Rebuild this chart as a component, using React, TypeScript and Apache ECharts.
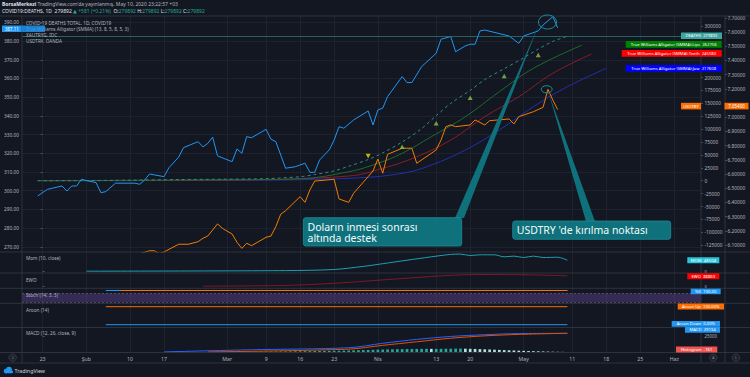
import React, { useEffect, useRef } from "react";
import * as echarts from "echarts";

const FONT = "'Noto Sans', 'DejaVu Sans', sans-serif";
const BG = "#131722";
const AXIS_TXT = "#b2b5be";
const GRID = "#232733";
const BORDER = "#363a45";

// ---------- axis ticks ----------
const xTickDates = ["01-23", "02-01", "02-10", "02-17", "03-01", "03-09", "03-16", "03-23", "04-01", "04-13", "04-20", "05-01", "05-11", "05-18", "05-25", "06-01"];
const xTickLabels = ["23", "Şub", "10", "17", "Mar", "9", "16", "23", "Nis", "13", "20", "May", "11", "18", "25", "Haz"];
const goldTicks = [270, 280, 290, 300, 310, 320, 330, 340, 350, 360, 370, 380, 390];
const deathTicks = [-125000, -100000, -75000, -50000, -25000, 0, 25000, 50000, 75000, 100000, 125000, 150000, 175000, 200000, 300000];
const usdTicks = [6.1, 6.2, 6.3, 6.4, 6.5, 6.6, 6.7, 6.8, 6.9, 7.0, 7.2, 7.3, 7.4, 7.5, 7.6, 7.7];
const momTicks = [0];
const ewoTicks = [0];
const macdTicks = [25000];

// ---------- XAUTRYG (gram gold, TRY) ----------
const goldDates = ["01-22", "01-24", "01-25", "01-27", "01-28", "01-29", "01-30", "01-31", "02-01", "02-03", "02-04", "02-05", "02-07", "02-11", "02-12", "02-13", "02-14", "02-17", "02-18", "02-20", "02-21", "02-24", "02-25", "02-26", "02-27", "02-28", "03-02", "03-03", "03-04", "03-05", "03-06", "03-09", "03-10", "03-11", "03-13", "03-15", "03-17", "03-18", "03-19", "03-20", "03-22", "03-23", "03-24", "03-25", "03-27", "03-30", "03-31", "04-01", "04-02", "04-03", "04-06", "04-07", "04-08", "04-10", "04-13", "04-14", "04-16", "04-17", "04-19", "04-20", "04-21", "04-22", "04-23", "04-28", "04-30", "05-01", "05-04", "05-05", "05-07", "05-08"];
const goldValues = [297.2, 300.7, 301.3, 302.5, 299.8, 302.5, 302.5, 306.1, 305.4, 304.3, 298.9, 299.5, 304.0, 304.0, 303.4, 305.7, 308.9, 307.5, 312.3, 317.9, 323.0, 326.2, 323.4, 325.3, 328.6, 318.6, 315.5, 322.3, 320.0, 328.9, 328.3, 332.8, 327.5, 326.2, 312.0, 312.8, 314.7, 309.8, 309.8, 316.4, 321.8, 327.1, 334.2, 333.4, 337.8, 342.6, 335.1, 343.2, 344.1, 350.3, 361.0, 357.8, 357.8, 366.3, 373.5, 381.0, 382.4, 374.3, 377.4, 378.3, 378.3, 385.4, 385.9, 382.7, 378.8, 382.7, 385.4, 388.6, 393.0, 387.11];

// ---------- USDTRY ----------
const usdDates = ["01-19", "01-31", "02-10", "02-14", "02-15", "02-16", "02-17", "02-20", "02-22", "02-24", "02-25", "02-26", "02-28", "02-29", "03-02", "03-03", "03-04", "03-05", "03-06", "03-09", "03-10", "03-11", "03-12", "03-13", "03-16", "03-17", "03-18", "03-19", "03-23", "03-24", "03-26", "03-27", "03-30", "03-31", "04-01", "04-02", "04-03", "04-06", "04-08", "04-09", "04-13", "04-14", "04-15", "04-16", "04-17", "04-20", "04-21", "04-23", "04-24", "04-28", "04-29", "04-30", "05-03", "05-05", "05-06", "05-07", "05-08"];
const usdValues = [5.95, 5.97, 6.02, 6.06, 6.06, 6.04, 6.052, 6.106, 6.106, 6.124, 6.148, 6.164, 6.249, 6.218, 6.178, 6.12, 6.077, 6.113, 6.096, 6.155, 6.164, 6.23, 6.317, 6.342, 6.441, 6.401, 6.488, 6.551, 6.563, 6.425, 6.401, 6.465, 6.582, 6.622, 6.706, 6.606, 6.739, 6.782, 6.782, 6.676, 6.77, 6.84, 6.934, 6.946, 6.934, 6.946, 6.981, 6.946, 6.976, 6.988, 6.953, 7.004, 7.039, 7.07, 7.197, 7.122, 7.054];

// ---------- COVID-19 deaths total ----------
const deathDates = ["01-22", "01-31", "02-10", "02-20", "02-29", "03-09", "03-16", "03-19", "03-23", "03-26", "03-30", "04-02", "04-06", "04-10", "04-13", "04-16", "04-20", "04-23", "04-27", "05-01", "05-04", "05-07", "05-10"];
const deathValues = [17, 213, 1013, 2247, 2941, 3988, 7750, 12000, 19000, 28000, 41000, 54000, 75000, 101000, 126000, 150000, 175000, 196000, 217000, 238000, 255000, 270000, 279892];

// ---------- Williams Alligator (SMMA) ----------
const lipsDates = ["01-22", "03-01", "03-16", "03-26", "04-01", "04-06", "04-12", "04-19", "04-26", "05-03", "05-13"];
const lipsValues = [50, 1800, 4000, 17440, 33700, 53100, 85300, 124000, 172500, 217800, 262756];
const teethDates = ["01-22", "03-01", "03-26", "04-02", "04-09", "04-16", "04-23", "04-30", "05-07", "05-15"];
const teethValues = [30, 1200, 9100, 24000, 46500, 78900, 124000, 162800, 208100, 245580];
const jawDates = ["01-22", "03-01", "03-26", "04-06", "04-12", "04-19", "04-26", "05-03", "05-10", "05-18"];
const jawValues = [20, 800, 4650, 14300, 30400, 59500, 98300, 143400, 182200, 217608];

// ---------- signal marks ----------
const upMarkDates = ["04-06", "04-13", "04-20", "04-27", "05-04"];
const upMarkValues = [65900, 111200, 160900, 202900, 243600];
const downMarkDates = ["03-30"];
const downMarkValues = [47900];

// ---------- indicators ----------
const momDates = ["02-01", "03-13", "03-23", "03-29", "04-02", "04-07", "04-12", "04-16", "04-18", "04-20", "04-22", "04-25", "04-27", "04-29", "05-01", "05-03", "05-05", "05-08", "05-10"];
const momValues = [0, 2500, 7200, 20300, 31700, 46500, 60800, 71000, 72300, 66400, 69300, 69300, 60800, 63800, 57800, 63800, 57800, 59100, 46504];
const ewoDates = ["02-25", "03-13", "03-23", "04-02", "04-12", "04-17", "04-22", "05-02", "05-10"];
const ewoValues = [0, 6800, 24800, 53800, 82900, 94800, 100000, 97400, 88869];
const stochKDates = ["02-05", "05-10"];
const stochKValues = [100, 100];
const stochDDates = ["02-08", "05-10"];
const stochDValues = [100, 100];
const aroonDates = ["02-05", "05-10"];
const aroonUpValues = [100, 100];
const aroonDownValues = [0, 0];
const macdDates = ["02-17", "03-06", "03-26", "04-02", "04-09", "04-16", "04-23", "04-30", "05-10"];
const macdValues = [150, 3500, 6660, 13600, 19700, 24300, 27000, 28850, 29134];
const signalDates = ["02-26", "03-26", "04-02", "04-09", "04-16", "04-23", "04-30", "05-10"];
const signalValues = [100, 4440, 10400, 15950, 21500, 25240, 27460, 29295];
const histStart = "02-26";
const histValues = [100, 150, 200, 250, 250, 300, 350, 400, 450, 500, 550, 600, 650, 700, 750, 800, 900, 1000, 1100, 1200, 1300, 1400, 1500, 1600, 1700, 1800, 1900, 2000, 2200, 2400, 2600, 2800, 3000, 3200, 3400, 3600, 3800, 4000, 4200, 4400, 4500, 4600, 4700, 4800, 4900, 5000, 4900, 4950, 5000, 5100, 5200, 5300, 5350, 5200, 5000, 4800, 4500, 4200, 3900, 3600, 3300, 3000, 2700, 2400, 2100, 1800, 1500, 1300, 1100, 900, 700, 500, 350, 200, -161];

// ---------- helpers ----------
const BASE = Date.UTC(2020, 0, 23);
function dayOf(s: string): number {
  const [m, d] = s.split("-").map(Number);
  return Math.round((Date.UTC(2020, m - 1, d) - BASE) / 86400000);
}
const pairs = (dates: string[], vals: number[]) => dates.map((d, i) => [dayOf(d), vals[i]]);
const tickDays = xTickDates.map(dayOf);
const labelMap: Record<number, string> = {};
tickDays.forEach((d, i) => (labelMap[d] = xTickLabels[i]));

const X_MIN = -4.24;
const X_MAX = 135.5;
const PANES = [
  { top: 16, h: 236 },
  { top: 252, h: 21 },
  { top: 273, h: 15.3 },
  { top: 288.3, h: 15 },
  { top: 303.3, h: 24.2 },
  { top: 327.5, h: 25 },
];

function rightAxis(grid: number, min: number, max: number, ticks: number[] | null, fmt: (v: number) => string, offset = 0, margin = 3.5, fs = 4.8) {
  return {
    type: "value",
    gridIndex: grid,
    position: "right",
    offset,
    min,
    max,
    axisLine: { show: false },
    axisTick: ticks ? { show: true, length: 2, customValues: ticks, lineStyle: { color: "#787b86", width: 0.6 } } : { show: false },
    axisLabel: ticks
      ? { show: true, customValues: ticks, formatter: fmt, color: AXIS_TXT, fontSize: fs, fontFamily: FONT, margin }
      : { show: false },
    splitLine: { show: false },
  };
}

function box(x: number, y: number, w: number, h: number, fill: string, text: string, fs = 4.2, color = "#ffffff") {
  return [
    { type: "rect", z: 100, shape: { x, y, width: w, height: h }, style: { fill } },
    {
      type: "text", z: 101, x: x + w / 2, y: y + h / 2,
      style: { text, fill: color, fontSize: fs, lineHeight: fs + 0.6, fontFamily: FONT, align: "center", verticalAlign: "middle" },
    },
  ];
}

function buildOption() {
  const histD0 = dayOf(histStart);
  const histData = histValues.map((v, i) => {
    const prev = i > 0 ? histValues[i - 1] : 0;
    const color = v >= 0 ? (v >= prev ? "#26a69a" : "#b2dfdb") : v < prev ? "#ef5350" : "#ffcdd2";
    return { value: [histD0 + i, v], itemStyle: { color } };
  });

  const line = (name: string, x: number, y: number, data: any[], color: string, extra: any = {}) => ({
    name,
    type: "line",
    xAxisIndex: x,
    yAxisIndex: y,
    data,
    symbol: "none",
    lineStyle: { color, width: 1 },
    itemStyle: { color },
    z: 3,
    ...extra,
  });

  const graphics: any[] = [];
  [16, 252, 273, 288.3, 303.3, 327.5, 352.5, 363].forEach((y) =>
    graphics.push({ type: "line", z: 6, silent: true, shape: { x1: 0, y1: y, x2: 750, y2: y }, style: { stroke: BORDER, lineWidth: 0.8 } })
  );
  [22, 701, 725].forEach((x) =>
    graphics.push({ type: "line", z: 6, silent: true, shape: { x1: x, y1: 16, x2: x, y2: 363 }, style: { stroke: BORDER, lineWidth: 0.8 } })
  );

  // header
  graphics.push({
    type: "text", z: 20, x: 2, y: 4.1,
    style: {
      text: "{b|BorsaMerkezi} {n|TradingView.com'da yayınlanmış, May 10, 2020 23:22:57 +03}",
      fontSize: 5, lineHeight: 5.2, fontFamily: FONT, verticalAlign: "middle",
      rich: {
        b: { fill: "#e0e3eb", fontWeight: "bold", fontSize: 5, lineHeight: 5.2, fontFamily: FONT },
        n: { fill: "#b2b5be", fontSize: 5, lineHeight: 5.2, fontFamily: FONT },
      },
    },
  });
  graphics.push({
    type: "text", z: 20, x: 2, y: 11,
    style: {
      text: "{w|COVID19:DEATHS, 1D  279892 }{g|▲ +581 (+0.21%)}{w|  O:}{g|279892}{w| H:}{g|279892}{w| L:}{g|279892}{w| C:}{g|279892}",
      fontSize: 5, lineHeight: 5.2, fontFamily: FONT, verticalAlign: "middle",
      rich: {
        w: { fill: "#e0e3eb", fontSize: 5, lineHeight: 5.2, fontFamily: FONT },
        g: { fill: "#26a69a", fontSize: 5, lineHeight: 5.2, fontFamily: FONT },
      },
    },
  });

  // legends
  const legends: [number, string][] = [
    [22.5, "COVID-19 DEATHS TOTAL, 1D, COVID19"],
    [28.8, "True Williams Alligator (SMMA) (13, 8, 5, 8, 5, 3)"],
    [35.1, "XAUTRYG, IDC"],
    [41.4, "USDTRY, OANDA"],
    [257.5, "Mom (10, close)"],
    [279.5, "EWO"],
    [295.3, "Stoch (14, 3, 3)"],
    [310, "Aroon (14)"],
    [333, "MACD (12, 26, close, 9)"],
  ];
  legends.forEach(([y, t]) =>
    graphics.push({ type: "text", z: 20, x: 26, y, style: { text: t, fill: "#b2b5be", fontSize: 4.7, lineHeight: 5, fontFamily: FONT, verticalAlign: "middle" } })
  );

  // price labels
  graphics.push(...box(2, 25.5, 19.5, 6.5, "#2196f3", "387.11", 4.5));
  graphics.push({ type: "rect", z: 100, shape: { x: 21.5, y: 25.5, width: 23.5, height: 6.5 }, style: { fill: "rgba(33,150,243,0.82)" } });
  graphics.push(...box(681, 32.4, 41, 6.6, "#3aa5a1", "DEATHS  279892"));
  graphics.push(...box(625.7, 41.1, 96, 6.6, "#008000", "True Williams Alligator (SMMA):Lips  262756"));
  graphics.push(...box(621.7, 50.1, 100, 6.6, "#ff0000", "True Williams Alligator (SMMA):Teeth  245580"));
  graphics.push(...box(625.7, 65.1, 96, 6.6, "#0000ff", "True Williams Alligator (SMMA):Jaw  217608"));
  graphics.push(...box(681, 102.8, 20, 6.6, "#ff6d00", "USDTRY"));
  graphics.push(...box(724.5, 102.8, 24, 6.6, "#ff6d00", "7.05400", 4.5));
  graphics.push(...box(687.3, 257.3, 32, 6, "#26c6da", "MOM  46504"));
  graphics.push(...box(687.3, 273.3, 32, 6, "#ff0000", "EWO  88869"));
  graphics.push(...box(690.7, 288.6, 30, 5.6, "#2196f3", "%K  100.00"));
  graphics.push(...box(677.7, 303.5, 46.3, 6, "#ff6d00", "Aroon Up  100.00%"));
  graphics.push(...box(671.7, 321, 48.3, 5.8, "#2196f3", "Aroon Down  0.00%"));
  graphics.push(...box(685, 326.8, 35, 5.9, "#2196f3", "MACD  29134"));
  graphics.push(...box(676, 346.6, 41.3, 6, "#ef5350", "Histogram  -161"));

  // callouts
  const CALL = "#0f717b";
  const CALL_EDGE = "#1b8f98";
  graphics.push({ type: "polygon", z: 50, shape: { points: [[455, 218], [464, 218], [539, 24]] }, style: { fill: CALL } });
  graphics.push({ type: "polygon", z: 50, shape: { points: [[548.5, 92.5], [586, 221.5], [595, 221.5]] }, style: { fill: CALL } });
  graphics.push({ type: "ellipse", z: 50, shape: { cx: 547.5, cy: 22, rx: 9, ry: 7 }, style: { fill: "none", stroke: CALL_EDGE, lineWidth: 1 } });
  graphics.push({ type: "ellipse", z: 50, shape: { cx: 546.7, cy: 89.3, rx: 5.5, ry: 3.6 }, style: { fill: "none", stroke: CALL_EDGE, lineWidth: 1 } });
  graphics.push({ type: "rect", z: 51, shape: { x: 303.3, y: 217.7, width: 158.4, height: 28.3, r: 2.5 }, style: { fill: CALL, stroke: CALL_EDGE, lineWidth: 0.8 } });
  graphics.push({
    type: "text", z: 52, x: 307.5, y: 232.3,
    style: { text: "Doların inmesi sonrası\naltında destek", fill: "#f2fbfc", fontSize: 10.5, lineHeight: 11, fontFamily: FONT, verticalAlign: "middle" },
  });
  graphics.push({ type: "rect", z: 51, shape: { x: 512.7, y: 221, width: 158, height: 18.3, r: 2.5 }, style: { fill: CALL, stroke: CALL_EDGE, lineWidth: 0.8 } });
  graphics.push({ type: "text", z: 52, x: 516.7, y: 230.3, style: { text: "USDTRY 'de kırılma noktası", fill: "#f2fbfc", fontSize: 10.5, lineHeight: 11, fontFamily: FONT, verticalAlign: "middle" } });

  // buttons
  const btn = (cx: number, cy: number, t: string) => {
    graphics.push({ type: "circle", z: 20, shape: { cx, cy, r: 3.8 }, style: { fill: "#1e222d", stroke: "#434651", lineWidth: 0.6 } });
    graphics.push({ type: "text", z: 21, x: cx, y: cy, style: { text: t, fill: "#787b86", fontSize: 4.2, fontFamily: FONT, align: "center", verticalAlign: "middle" } });
  };
  btn(12.7, 357.6, "2");
  btn(713.3, 357.7, "A");
  btn(736, 357.7, "L");

  // footer logo
  graphics.push({ type: "circle", z: 20, shape: { cx: 6, cy: 371, r: 2.3 }, style: { fill: "#2196f3" } });
  graphics.push({ type: "circle", z: 20, shape: { cx: 9, cy: 369.6, r: 2.9 }, style: { fill: "#2196f3" } });
  graphics.push({ type: "rect", z: 20, shape: { x: 4.5, y: 370.5, width: 8.5, height: 2.8, r: 1 }, style: { fill: "#2196f3" } });
  graphics.push({ type: "text", z: 20, x: 14.5, y: 370.8, style: { text: "TradingView", fill: "#d1d4dc", fontSize: 5.3, fontFamily: FONT, verticalAlign: "middle" } });

  return {
    animation: false,
    backgroundColor: BG,
    textStyle: { fontFamily: FONT },
    grid: PANES.map((p) => ({ left: 22, right: 49, top: p.top, height: p.h, containLabel: false })),
    xAxis: PANES.map((_, i) => ({
      type: "value",
      gridIndex: i,
      min: X_MIN,
      max: X_MAX,
      axisLine: { show: false },
      axisTick: { show: false, customValues: tickDays },
      axisLabel: {
        show: i === 5,
        customValues: tickDays,
        formatter: (v: number) => labelMap[v] ?? "",
        color: AXIS_TXT,
        fontSize: 5.2,
        fontFamily: FONT,
        margin: 3.5,
      },
      splitLine: { show: true, lineStyle: { color: GRID, width: 0.7 } },
    })),
    yAxis: [
      {
        type: "value",
        gridIndex: 0,
        position: "left",
        min: 267.2,
        max: 393.4,
        axisLine: { show: false },
        axisTick: { show: true, length: 2, customValues: goldTicks, lineStyle: { color: "#787b86", width: 0.6 } },
        axisLabel: { customValues: goldTicks, formatter: (v: number) => v.toFixed(2), color: AXIS_TXT, fontSize: 4.8, fontFamily: FONT, margin: 3 },
        splitLine: { show: true, lineStyle: { color: GRID, width: 0.7 } },
      },
      rightAxis(0, -138178, 319186, deathTicks, (v) => String(v), 0, 3.5),
      rightAxis(0, 6.0514, 7.713, usdTicks, (v) => v.toFixed(5), 24, 2.5),
      rightAxis(1, -7610, 81180, momTicks, (v) => String(v), 0, 3.5, 4),
      rightAxis(2, -17945, 112790, ewoTicks, (v) => String(v), 0, 3.5, 4),
      rightAxis(3, 13.2, 115, null, (v) => String(v)),
      rightAxis(4, -15.6, 118.9, null, (v) => String(v)),
      rightAxis(5, -781, 38270, macdTicks, (v) => String(v), 0, 3.5, 4.4),
    ],
    series: [
      line("Jaw", 0, 1, pairs(jawDates, jawValues), "#2430b0", { smooth: 0.4 }),
      line("Teeth", 0, 1, pairs(teethDates, teethValues), "#8b1e2a", { smooth: 0.4 }),
      line("Lips", 0, 1, pairs(lipsDates, lipsValues), "#1f6b2c", { smooth: 0.4 }),
      line("DEATHS", 0, 1, pairs(deathDates, deathValues), "#2e8c8a", {
        smooth: 0.3,
        lineStyle: { color: "#2e8c8a", width: 1, type: [3, 3] },
        markLine: {
          silent: true,
          symbol: "none",
          label: { show: false },
          lineStyle: { color: "#2b7774", type: "solid", width: 0.8 },
          data: [{ yAxis: deathValues[deathValues.length - 1] }],
        },
      }),
      {
        type: "scatter", xAxisIndex: 0, yAxisIndex: 1, z: 4,
        data: pairs(upMarkDates, upMarkValues), symbol: "triangle", symbolSize: [5, 4.5],
        itemStyle: { color: "#8bc34a" },
      },
      {
        type: "scatter", xAxisIndex: 0, yAxisIndex: 1, z: 4,
        data: pairs(downMarkDates, downMarkValues), symbol: "triangle", symbolRotate: 180, symbolSize: [5, 4.5],
        itemStyle: { color: "#ffd600" },
      },
      line("USDTRY", 0, 2, pairs(usdDates, usdValues), "#f57c00"),
      line("XAUTRYG", 0, 0, pairs(goldDates, goldValues), "#2196f3"),
      line("Mom", 1, 3, pairs(momDates, momValues), "#1f9fae", { smooth: 0.3 }),
      line("EWO", 2, 4, pairs(ewoDates, ewoValues), "#7d1a24", { smooth: 0.3 }),
      line("%K", 3, 5, pairs(stochKDates, stochKValues), "#2196f3", {
        markArea: { silent: true, itemStyle: { color: "rgba(126,87,194,0.32)" }, data: [[{ yAxis: 20 }, { yAxis: 80 }]] },
        markLine: {
          silent: true, symbol: "none", label: { show: false },
          lineStyle: { color: "#6b6e7a", type: [2, 2], width: 0.6 },
          data: [{ yAxis: 80 }, { yAxis: 20 }],
        },
      }),
      line("%D", 3, 5, pairs(stochDDates, stochDValues), "#ff6d00"),
      line("Aroon Up", 4, 6, pairs(aroonDates, aroonUpValues), "#ff6d00"),
      line("Aroon Down", 4, 6, pairs(aroonDates, aroonDownValues), "#2196f3"),
      {
        type: "bar", xAxisIndex: 5, yAxisIndex: 7, barWidth: 2.7, z: 2,
        data: histData,
      },
      line("MACD", 5, 7, pairs(macdDates, macdValues), "#2962ff", { smooth: 0.3 }),
      line("Signal", 5, 7, pairs(signalDates, signalValues), "#e65100", { smooth: 0.3 }),
    ],
    graphic: graphics,
  };
}

export default function App() {
  const ref = useRef<HTMLDivElement>(null);
  useEffect(() => {
    if (!ref.current) return;
    const chart = echarts.init(ref.current, null, { renderer: "svg" });
    chart.setOption(buildOption() as any);
    return () => chart.dispose();
  }, []);
  return <div ref={ref} style={{ position: "absolute", left: 0, top: 0, width: 750, height: 377 }} />;
}
